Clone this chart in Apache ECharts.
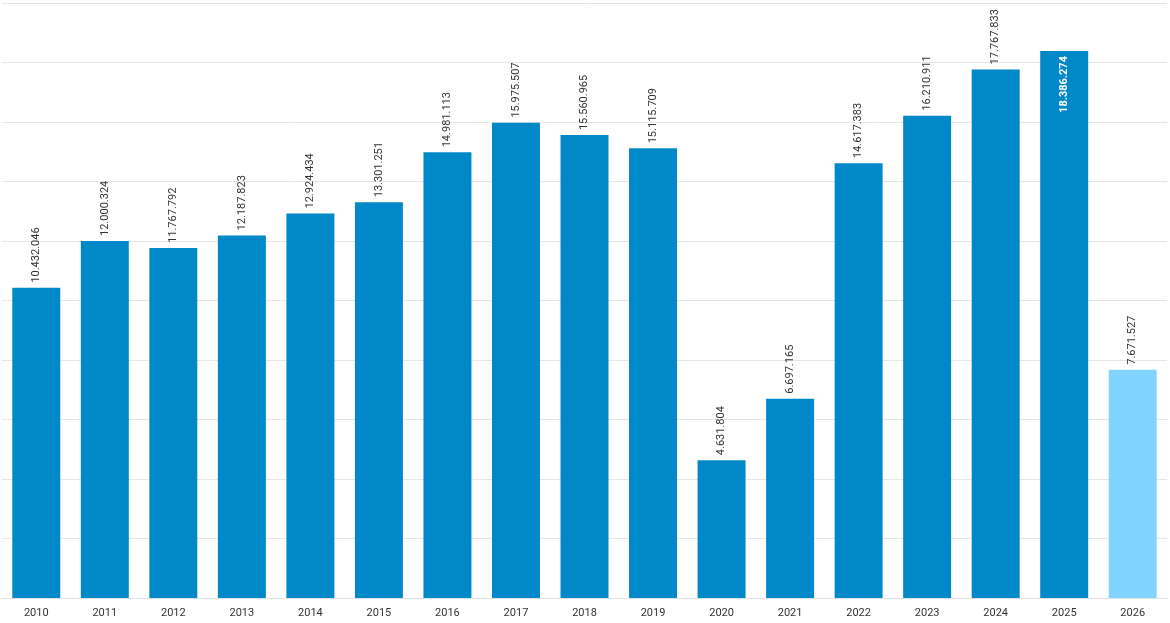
<!DOCTYPE html>
<html lang="en">
<head>
    <meta charset="UTF-8">
    <title>Chart</title>
    <script src="https://cdn.jsdelivr.net/npm/echarts@6/dist/echarts.min.js"></script>
    <style>
        *{ margin: 0; padding: 0; }
        html,body{ width: 100%; height: 100%; background: #fff; }
        .container{ width: 1170px; height: 623px; }
    </style>
</head>
<body>
<div class="container"></div>
<script>
    const years = ['2010','2011','2012','2013','2014','2015','2016','2017','2018','2019','2020','2021','2022','2023','2024','2025','2026'];
    const values = [10432046, 12000324, 11767792, 12187823, 12924434, 13301251, 14981113, 15975507, 15560965, 15115709, 4631804, 6697165, 14617383, 16210911, 17767833, 18386274, 7671527];
    const partialYear = '2026';
    const insideLabelYear = '2025';

    function fmt(v){
        return String(v).replace(/\B(?=(\d{3})+(?!\d))/g, '.');
    }

    let chart = echarts.init(document.querySelector('.container'));

    let data = values.map((v, i) => {
        let item = { value: v };
        if (years[i] === partialYear) {
            item.itemStyle = { color: '#80d4ff' };
        }
        if (years[i] === insideLabelYear) {
            item.label = {
                position: 'insideTop',
                align: 'right',
                distance: 5,
                color: '#fff',
                fontWeight: 'bold'
            };
        }
        return item;
    });

    let option = {
        animation: false,
        grid: { left: 2, right: 3, top: 3, bottom: 25, containLabel: false },
        xAxis: {
            type: 'category',
            data: years,
            axisTick: { show: false },
            axisLine: { lineStyle: { color: '#e0e0e0' } },
            axisLabel: { color: '#333', fontSize: 11, fontFamily: 'Roboto', margin: 10 }
        },
        yAxis: {
            type: 'value',
            min: 0,
            max: 20000000,
            interval: 2000000,
            axisLabel: { show: false },
            axisLine: { show: false },
            axisTick: { show: false },
            splitLine: { lineStyle: { color: '#e6e6e6' } }
        },
        series: [{
            type: 'bar',
            data,
            barWidth: '70%',
            itemStyle: { color: '#0088c8' },
            label: {
                show: true,
                position: 'top',
                rotate: 90,
                align: 'left',
                verticalAlign: 'middle',
                distance: 5,
                fontSize: 11,
                fontFamily: 'Roboto',
                color: '#333',
                formatter: p => fmt(p.value)
            }
        }]
    };
    chart.setOption(option);
</script>
</body>
</html>
